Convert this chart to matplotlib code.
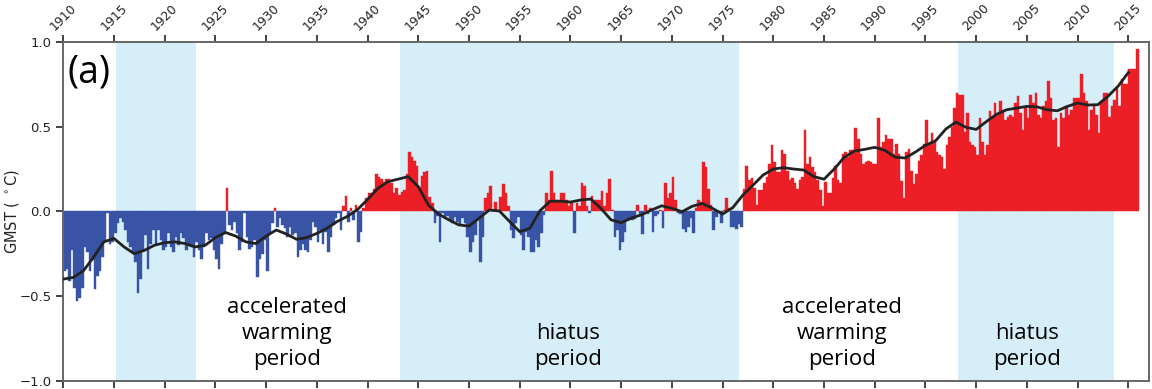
import numpy as np
import matplotlib
matplotlib.use('Agg')
import matplotlib.pyplot as plt

# quarterly GMST anomalies (deg C), four values per year, starting 1910
gmst_1910s = [-0.35, -0.34, -0.41, -0.23, -0.45, -0.53, -0.51, -0.45, -0.21, -0.24, -0.35, -0.29,
              -0.46, -0.38, -0.35, -0.27, -0.18, -0.01, -0.19, -0.18, -0.13, -0.07, -0.04, -0.06,
              -0.11, -0.18, -0.21, -0.24, -0.30, -0.48, -0.40, -0.23, -0.14, -0.34, -0.19, -0.11,
              -0.20, -0.11, -0.17, -0.23]
gmst_1920s = [-0.21, -0.13, -0.21, -0.24, -0.15, -0.20, -0.13, -0.16, -0.23, -0.19, -0.21, -0.27,
              -0.18, -0.23, -0.28, -0.21, -0.13, -0.17, -0.16, -0.23, -0.28, -0.34, -0.19, -0.12,
              0.14, -0.08, -0.11, -0.06, -0.13, -0.23, -0.18, -0.01, -0.15, -0.22, -0.21, -0.17,
              -0.39, -0.28, -0.25, -0.17]
gmst_1930s = [-0.35, -0.13, -0.07, 0.02, -0.09, -0.04, -0.08, -0.10, -0.15, -0.09, -0.14, -0.13,
              -0.27, -0.23, -0.19, -0.23, -0.24, -0.17, -0.06, -0.09, -0.18, -0.11, -0.19, -0.12,
              -0.24, -0.15, -0.08, -0.04, -0.01, -0.11, 0.03, 0.09, -0.06, 0.02, -0.05, 0.04,
              -0.18, -0.12, 0.02, 0.08]
gmst_1940s = [0.11, 0.11, 0.13, 0.22, 0.20, 0.19, 0.175, 0.19, 0.19, 0.165, 0.106, 0.136,
              0.096, 0.116, 0.126, 0.22, 0.35, 0.32, 0.30, 0.27, 0.146, 0.21, 0.23, 0.24,
              0.087, 0.047, -0.07, -0.03, -0.18, -0.01, -0.04, -0.03, -0.05, -0.07, -0.035, -0.06,
              -0.08, -0.04, -0.07, -0.15]
gmst_1950s = [-0.24, -0.18, -0.14, -0.05, -0.30, -0.15, 0.077, 0.106, 0.15, 0.01, 0.057, 0.01,
              0.087, 0.16, 0.106, 0.03, -0.11, -0.16, -0.07, -0.035, -0.14, -0.23, -0.12, -0.15,
              -0.24, -0.24, -0.17, -0.21, -0.13, -0.02, 0.11, 0.067, 0.24, 0.11, 0.067, 0.057,
              0.11, 0.11, 0.067, 0.03]
gmst_1960s = [0.047, -0.13, 0.05, 0.03, 0.17, 0.15, 0.03, -0.01, 0.09, 0.07, 0.067, 0.067,
              0.12, 0.03, 0.106, 0.19, 0.01, -0.15, -0.11, -0.23, -0.18, -0.12, -0.05, -0.04,
              -0.05, -0.047, 0.037, -0.03, -0.136, 0.037, -0.016, 0.018, -0.12, -0.03, -0.016, 0.008,
              -0.10, 0.165, 0.077, 0.11]
gmst_1970s = [0.20, 0.067, -0.01, -0.016, -0.106, -0.12, -0.09, -0.04, -0.13, 0.02, 0.067, 0.057,
              0.29, 0.26, 0.13, 0.037, -0.11, -0.035, -0.01, -0.07, 0.008, 0.077, 0.018, -0.09,
              -0.09, -0.106, -0.075, -0.09, 0.13, 0.27, 0.185, 0.195, 0.136, 0.037, 0.126, 0.126,
              0.165, 0.20, 0.28, 0.39]
gmst_1980s = [0.29, 0.23, 0.23, 0.36, 0.34, 0.24, 0.185, 0.195, 0.165, 0.13, 0.185, 0.20,
              0.48, 0.28, 0.32, 0.26, 0.23, 0.185, 0.126, 0.03, 0.175, 0.106, 0.106, 0.195,
              0.27, 0.185, 0.165, 0.34, 0.35, 0.32, 0.36, 0.36, 0.49, 0.43, 0.34, 0.28,
              0.29, 0.30, 0.29, 0.28]
gmst_1990s = [0.28, 0.55, 0.38, 0.41, 0.45, 0.425, 0.425, 0.34, 0.40, 0.34, 0.18, 0.08,
              0.35, 0.37, 0.24, 0.16, 0.22, 0.30, 0.33, 0.40, 0.54, 0.40, 0.46, 0.41,
              0.35, 0.33, 0.32, 0.25, 0.39, 0.44, 0.50, 0.61, 0.70, 0.69, 0.69, 0.47,
              0.58, 0.41, 0.39, 0.38]
gmst_2000s = [0.33, 0.55, 0.41, 0.33, 0.39, 0.59, 0.56, 0.64, 0.57, 0.65, 0.60, 0.54,
              0.555, 0.57, 0.56, 0.64, 0.68, 0.58, 0.48, 0.61, 0.55, 0.69, 0.64, 0.70,
              0.57, 0.55, 0.62, 0.65, 0.77, 0.67, 0.54, 0.55, 0.38, 0.58, 0.55, 0.62,
              0.57, 0.60, 0.67, 0.67]
gmst_2010s = [0.67, 0.81, 0.70, 0.65, 0.48, 0.60, 0.63, 0.57, 0.46, 0.65, 0.70, 0.70,
              0.56, 0.62, 0.66, 0.73, 0.62, 0.78, 0.75, 0.75, 0.84, 0.84, 0.84, 0.96]

# smoothed curve, one value per year 1910..2015
smooth_years = list(range(1910, 2016))
smooth_gmst = [-0.40, -0.39, -0.35, -0.27, -0.18, -0.16, -0.21, -0.25, -0.23, -0.20,
               -0.185, -0.18, -0.19, -0.21, -0.20, -0.155, -0.125, -0.146, -0.18, -0.19,
               -0.146, -0.11, -0.134, -0.165, -0.155, -0.13, -0.10, -0.06, -0.03, 0.01,
               0.07, 0.135, 0.175, 0.19, 0.205, 0.146, 0.037, -0.016, -0.05, -0.08,
               -0.087, -0.04, 0.008, 0.002, -0.06, -0.12, -0.10, 0.004, 0.06, 0.06,
               0.055, 0.067, 0.073, 0.018, -0.05, -0.067, -0.04, -0.02, 0.008, 0.033,
               0.018, -0.002, 0.03, 0.047, 0.018, -0.016, 0.022, 0.096, 0.155, 0.215,
               0.25, 0.258, 0.25, 0.244, 0.205, 0.19, 0.25, 0.32, 0.356, 0.366,
               0.378, 0.36, 0.32, 0.315, 0.35, 0.39, 0.417, 0.486, 0.527, 0.496,
               0.484, 0.53, 0.573, 0.60, 0.61, 0.62, 0.617, 0.60, 0.594, 0.62,
               0.64, 0.628, 0.63, 0.68, 0.74, 0.82]

# shaded periods (start, end) in years
periods = [(1915.2, 1923.1), (1943.2, 1976.6), (1998.2, 2013.6)]
period_labels = ['accelerated\nwarming\nperiod', 'hiatus\nperiod', 'accelerated\nwarming\nperiod', 'hiatus\nperiod']
label_pos = [(1932.1, -0.72), (1959.8, -0.80), (1986.8, -0.72), (2005.05, -0.80)]
tick_years = list(range(1910, 2016, 5))


def plot_gmst():
 gmst = np.array(gmst_1910s + gmst_1920s + gmst_1930s + gmst_1940s + gmst_1950s
                 + gmst_1960s + gmst_1970s + gmst_1980s + gmst_1990s + gmst_2000s + gmst_2010s)
 t = 1910 + 0.25 * np.arange(len(gmst))
 colors = np.where(gmst >= 0, '#ec1f26', '#3a54a5')

 fig = plt.figure(figsize = (11.52, 3.89), dpi = 100)
 ax = fig.add_axes([0.0549, 0.0213, 0.9422, 0.8707])

 for start, end in periods:
  ax.axvspan(start, end, color = '#d6eef8', lw = 0, zorder = 0)

 ax.bar(t, gmst, width = 0.25, align = 'edge', color = colors, edgecolor = colors, lw = 0.3, zorder = 2)
 ax.plot(smooth_years, smooth_gmst, color = '#222222', lw = 2.0, zorder = 3)

 ax.set_xlim(1910, 2017)
 ax.set_ylim(-1.0, 1.0)
 ax.set_yticks([-1.0, -0.5, 0.0, 0.5, 1.0])
 ax.set_xticks(tick_years)
 ax.xaxis.tick_top()
 ax.tick_params(axis = 'x', bottom = True, top = True, labelbottom = False, labeltop = True,
                labelrotation = 45, labelsize = 9, colors = '#222222', length = 5, width = 1.2, pad = 1.5)
 ax.tick_params(axis = 'y', labelsize = 9.5, colors = '#222222', length = 5, width = 1.2)
 for s in ax.spines.values():
  s.set_color('#666666')
  s.set_linewidth(1.4)

 fig.text(0.003, 0.457, 'GMST ( $^\\circ$C)', fontsize = 10.5, color = '#222222',
          rotation = 90, ha = 'left', va = 'center')

 ax.text(1910.4, 0.93, '(a)', fontsize = 27, family = 'Open Sans', va = 'top', ha = 'left')
 for txt, (x, y) in zip(period_labels, label_pos):
  ax.text(x, y, txt, fontsize = 16, family = 'Open Sans', ha = 'center', va = 'center',
          linespacing = 1.3, zorder = 4)

 fig.savefig('out.png', dpi = 100)


def main():
 plot_gmst()


if __name__ == '__main__':
    main()
